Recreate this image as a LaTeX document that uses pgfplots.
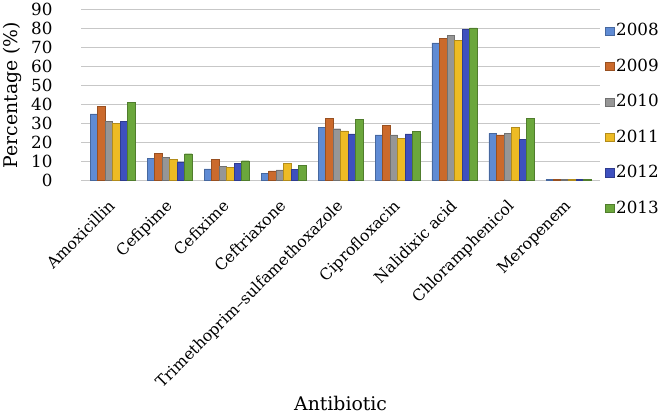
\documentclass[border=0pt]{standalone}
\usepackage{fontspec}
\setmainfont{DejaVu Serif}
\usepackage{pgfplots}
\pgfplotsset{compat=1.18}
\definecolor{c1}{HTML}{5F8BD4}
\definecolor{c2}{HTML}{CB6A2C}
\definecolor{c3}{HTML}{969696}
\definecolor{c4}{HTML}{EDBB24}
\definecolor{c5}{HTML}{3E50BF}
\definecolor{c6}{HTML}{6BA73C}
\begin{document}
\begin{tikzpicture}[font=\fontsize{15}{18}\selectfont]
\begin{axis}[
  /pgf/number format/assume math mode=true,
  scale only axis, width=496pt, height=163pt,
  ybar=0pt, bar width=7.2pt,
  ymin=0, ymax=90, ytick={0,10,...,90},
  xmin=-0.55, xmax=8.55,
  xtick={0,...,8},
  xticklabels={Amoxicillin,Cefipime,Cefixime,Ceftriaxone,Trimethoprim--sulfamethoxazole,Ciprofloxacin,Nalidixic acid,Chloramphenicol,Meropenem},
  xticklabel style={yshift=-16pt, xshift=-5pt, rotate=45, anchor=north east, inner sep=1pt},
  yticklabel style={xshift=-24pt, font=\fontsize{16}{19}\selectfont},
  major tick length=0pt,
  axis line style={draw=none},
  ymajorgrids, grid style={draw=black!22, line width=0.9pt},
  ylabel={Percentage (\%)}, xlabel={Antibiotic},
  label style={font=\fontsize{18}{21}\selectfont},
  ylabel style={yshift=2pt},
  xlabel style={yshift=0pt},
  legend style={at={(1.0,0.945)}, anchor=north west, xshift=2pt, draw=none, fill=none, row sep=16.5pt, font=\fontsize{16}{19}\selectfont},
  legend image code/.code={\fill[#1] (0pt,-4.5pt) rectangle (8pt,3.5pt);},
  legend cell align=left,
]
\addplot[fill=c1, draw=c1!75!black] coordinates {(0,35) (1,11.5) (2,6) (3,3.8) (4,28) (5,24) (6,72.5) (7,24.8) (8,0.3)};
\addplot[fill=c2, draw=c2!75!black] coordinates {(0,39) (1,14.3) (2,11) (3,5) (4,32.7) (5,29) (6,75) (7,24) (8,0.3)};
\addplot[fill=c3, draw=c3!75!black] coordinates {(0,31) (1,12) (2,7.4) (3,5.5) (4,27.2) (5,24) (6,76.5) (7,24.8) (8,0.3)};
\addplot[fill=c4, draw=c4!75!black] coordinates {(0,30) (1,11) (2,6.8) (3,8.8) (4,26) (5,22) (6,74) (7,28) (8,0.3)};
\addplot[fill=c5, draw=c5!75!black] coordinates {(0,31) (1,9.7) (2,8.8) (3,5.9) (4,24.5) (5,24.5) (6,79.5) (7,21.7) (8,0.3)};
\addplot[fill=c6, draw=c6!75!black] coordinates {(0,41) (1,14) (2,10.3) (3,8) (4,32) (5,25.7) (6,80.5) (7,32.7) (8,0.3)};
\legend{2008,2009,2010,2011,2012,2013}
\end{axis}
\end{tikzpicture}
\end{document}
